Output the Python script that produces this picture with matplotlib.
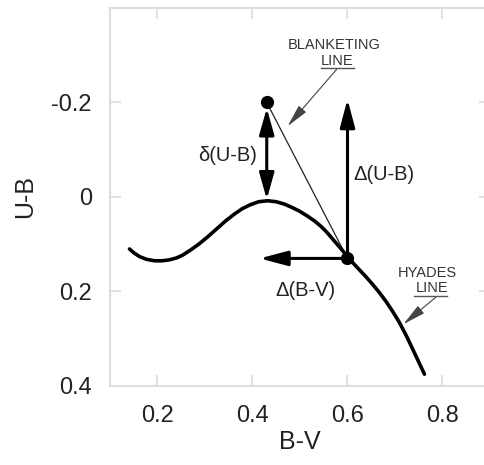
import matplotlib.pyplot as plt
import numpy as np

plt.rcParams['font.family'] = ['Liberation Sans', 'DejaVu Sans']

# Hyades line
bv = [0.141, 0.150, 0.162, 0.177, 0.194, 0.210, 0.225, 0.240, 0.253, 0.270,
      0.288, 0.306, 0.324, 0.343, 0.362, 0.378, 0.394, 0.413, 0.432, 0.450,
      0.467, 0.483, 0.499, 0.515, 0.531, 0.544, 0.556, 0.568, 0.579, 0.590,
      0.600, 0.612, 0.625, 0.639, 0.653, 0.667, 0.681, 0.695, 0.709, 0.722,
      0.734, 0.748, 0.762]
ub = [0.110, 0.118, 0.126, 0.132, 0.135, 0.135, 0.133, 0.129, 0.123, 0.112,
      0.099, 0.084, 0.068, 0.051, 0.036, 0.025, 0.017, 0.010, 0.008, 0.010,
      0.015, 0.022, 0.030, 0.040, 0.051, 0.062, 0.074, 0.088, 0.101, 0.114,
      0.126, 0.140, 0.154, 0.169, 0.185, 0.202, 0.221, 0.242, 0.265, 0.290,
      0.315, 0.345, 0.375]

star_obs = (0.43, -0.20)     # observed star
star_hy = (0.60, 0.13)       # point on hyades line
peak = (0.43, 0.005)
du_tip = -0.207
dbv_tip = 0.415

xticks = [0.2, 0.4, 0.6, 0.8]
xlabels = ['0.2', '0.4', '0.6', '0.8']
yticks = [-0.2, 0.0, 0.2, 0.4]
ylabels = ['-0.2', '0', '0.2', '0.4']

fig = plt.figure(figsize=(4.85, 4.65), dpi=100)
ax = fig.add_axes([0.2268, 0.1699, 0.7835, 0.8129])

ax.plot(bv, ub, color='black', lw=2.6, solid_capstyle='round',
        solid_joinstyle='round', zorder=3)

# thin line between the two points
ax.plot([star_obs[0], star_hy[0]], [star_obs[1], star_hy[1]], color='#222222', lw=0.9, zorder=2)
ax.plot(*star_obs, 'o', color='black', ms=8.5, zorder=4)
ax.plot(*star_hy, 'o', color='black', ms=8.5, zorder=4)

big = dict(color='black', lw=2.2, shrinkA=0, shrinkB=0, mutation_scale=10)
# delta(U-B) double arrow
ax.annotate('', xy=(star_obs[0], star_obs[1] + 0.012), xytext=peak,
            arrowprops=dict(arrowstyle='<|-|>,head_length=1.6,head_width=0.45', **big))
# Delta(U-B)
ax.annotate('', xy=(star_hy[0], du_tip), xytext=star_hy,
            arrowprops=dict(arrowstyle='-|>,head_length=1.7,head_width=0.45', **big))
# Delta(B-V)
ax.annotate('', xy=(dbv_tip, star_hy[1]), xytext=star_hy,
            arrowprops=dict(arrowstyle='-|>,head_length=1.7,head_width=0.45', **big))

ax.text(0.41, -0.088, 'δ(U-B)', fontsize=14.5, ha='right', va='center', color='#222222')
ax.text(0.612, -0.047, 'Δ(U-B)', fontsize=14.5, ha='left', va='center', color='#222222')
ax.text(0.512, 0.197, 'Δ(B-V)', fontsize=14.5, ha='center', va='center', color='#222222')

# callout labels
small = dict(color='#444444', lw=0.8, shrinkA=0, shrinkB=0, mutation_scale=10)
ax.text(0.573, -0.322, 'BLANKETING', fontsize=10.5, ha='center', va='center', color='#333333')
ax.text(0.579, -0.288, 'LINE', fontsize=10.5, ha='center', va='center', color='#333333')
ax.plot([0.544, 0.614], [-0.272, -0.272], color='#555555', lw=1.0)
ax.annotate('', xy=(0.474, -0.150), xytext=(0.577, -0.270),
            arrowprops=dict(arrowstyle='-|>,head_length=1.4,head_width=0.3', **small))

ax.text(0.768, 0.160, 'HYADES', fontsize=10.5, ha='center', va='center', color='#333333')
ax.text(0.777, 0.193, 'LINE', fontsize=10.5, ha='center', va='center', color='#333333')
ax.plot([0.740, 0.810], [0.210, 0.210], color='#555555', lw=1.0)
ax.annotate('', xy=(0.718, 0.269), xytext=(0.786, 0.212),
            arrowprops=dict(arrowstyle='-|>,head_length=1.4,head_width=0.3', **small))

ax.set_xlim(0.1, 0.9)
ax.set_ylim(0.4, -0.4)
ax.set_xticks(xticks)
ax.set_xticklabels(xlabels)
ax.set_yticks(yticks)
ax.set_yticklabels(ylabels)
ax.tick_params(direction='in', length=8, width=1.2, color='#dddddd',
               top=True, right=True, labelsize=17, labelcolor='#222222')
ax.tick_params(axis='y', pad=13)
ax.tick_params(axis='x', pad=14)
for s in ax.spines.values():
    s.set_color('#dddddd')
    s.set_linewidth(1.5)

ax.set_xlabel('B-V', fontsize=18, color='#222222', labelpad=2)
ax.set_ylabel('U-B', fontsize=18, color='#222222', labelpad=10)

fig.savefig('out.png', dpi=100)
